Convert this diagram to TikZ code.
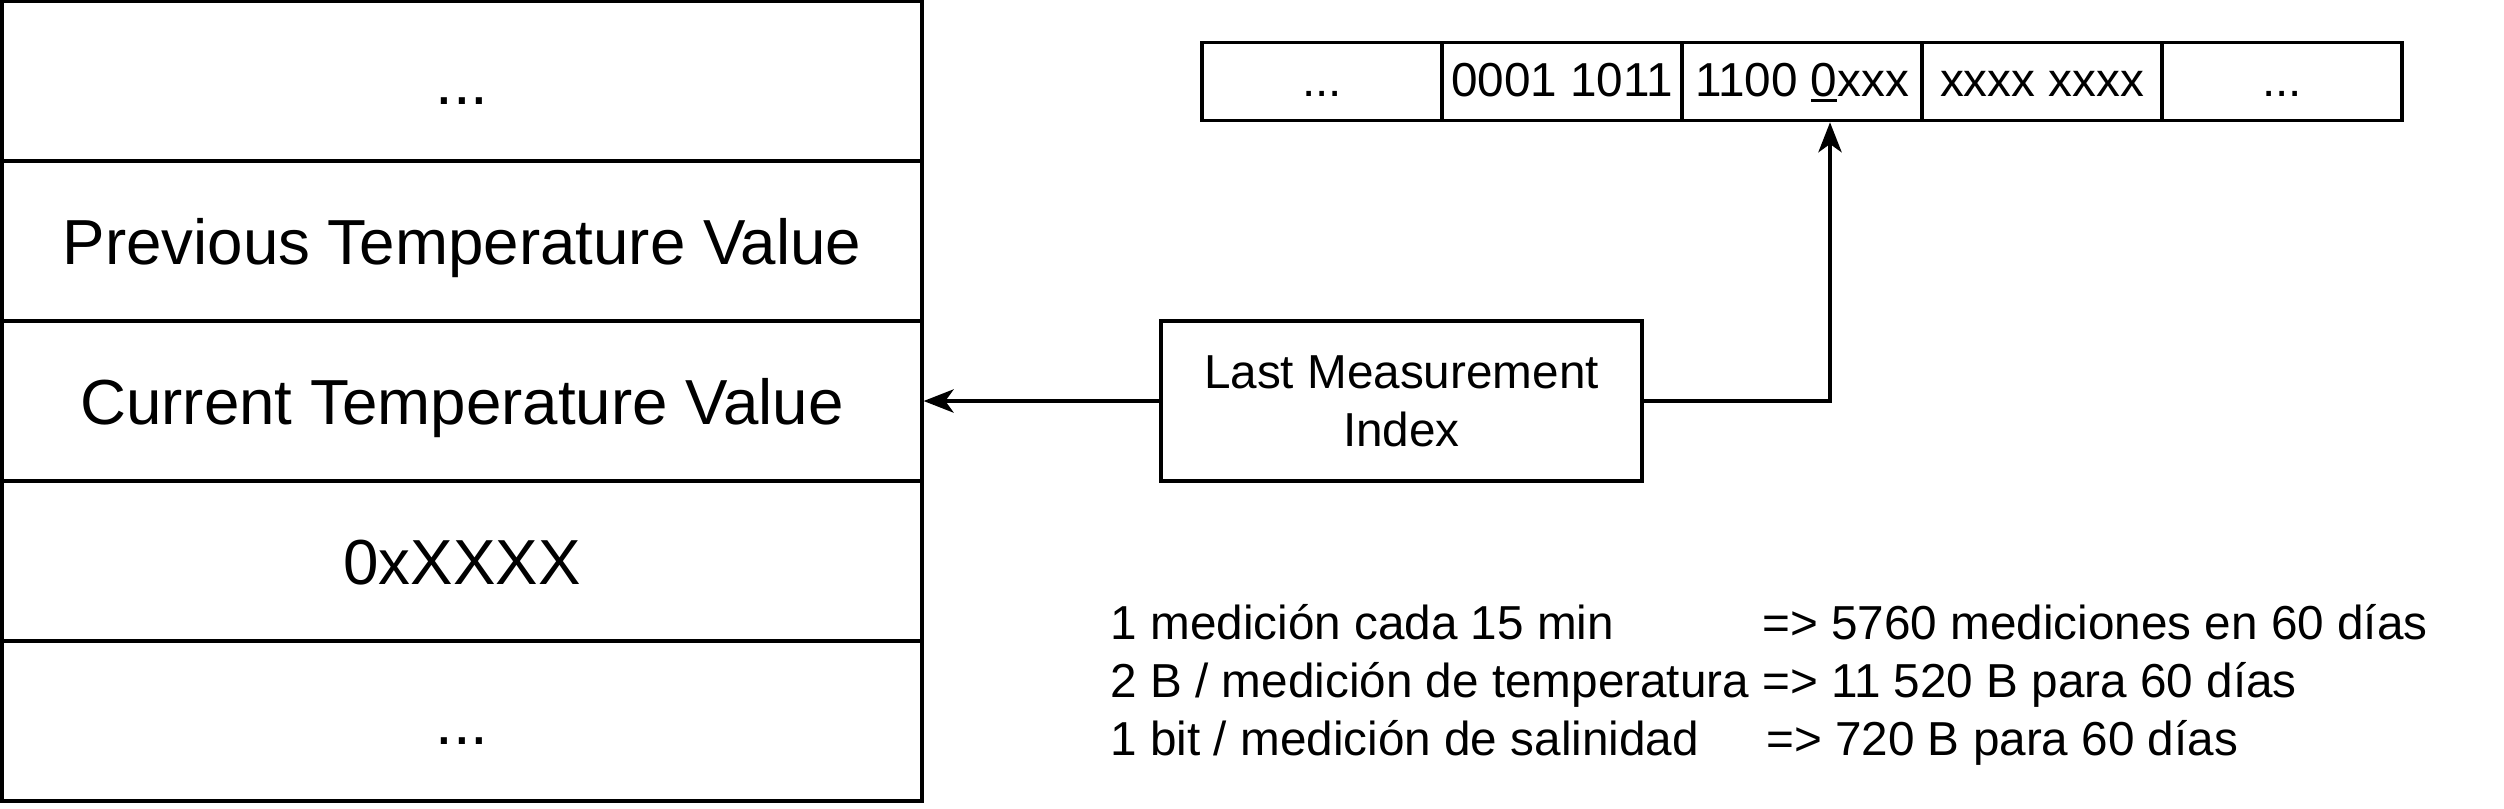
\documentclass[tikz,border=0pt]{standalone}
\usepackage{fontspec}
\setmainfont{Liberation Sans}
\usetikzlibrary{arrows.meta}
\newcommand\thickul[1]{\setbox0\hbox{#1}\rlap{\rule[-1.7pt]{\wd0}{0.9pt}}#1}
\begin{document}
\begin{tikzpicture}[x=0.3pt,y=-0.3pt,
  rowbox/.style={draw, line width=1pt, minimum width=276pt, minimum height=48pt, inner sep=0pt, text height=17.6pt, text depth=3.8pt, font=\fontsize{19.1}{22}\selectfont},
  cellbox/.style={draw, line width=1pt, minimum width=72pt, minimum height=23.5pt, inner sep=0pt, text height=12.4pt, text depth=3.7pt, font=\fontsize{14.3}{17}\selectfont},
  idxbox/.style={draw, line width=1pt, minimum width=144.3pt, minimum height=48pt, inner sep=0pt, align=center, font=\fontsize{14.3}{17.4}\selectfont},
  arr/.style={line width=1pt, -{Stealth[length=9pt, width=7pt, inset=2.5pt]}}]
\useasboundingbox (0,0) rectangle (2504,808);
% left memory column
\node[rowbox] (r1) at (462,81) {...};
\node[rowbox] (r2) at (462,241) {Previous Temperature Value};
\node[rowbox] (r3) at (462,401) {Current Temperature Value};
\node[rowbox] (r4) at (462,561) {0xXXXX};
\node[rowbox] (r5) at (462,721) {...};
% byte array
\node[cellbox] (c1) at (1322,81.5) {...};
\node[cellbox] (c2) at (1562,81.5) {0001 1011};
\node[cellbox] (c3) at (1802,81.5) {1100 \thickul{0}xxx};
\node[cellbox] (c4) at (2042,81.5) {xxxx xxxx};
\node[cellbox] (c5) at (2282,81.5) {...};
% index box
\node[idxbox] (idx) at (1401.5,401) {Last Measurement\\Index};
% connectors
\draw[arr] (idx.west) -- (r3.east);
\coordinate (bend) at (1830,401);
\draw[arr] (idx.east) -- (bend) -- (bend |- c3.south);
% notes
\node[anchor=west, inner sep=0pt, font=\fontsize{14.3}{17.4}\selectfont] (notes) at (1110,686) {%
\renewcommand{\arraystretch}{1}%
\begin{tabular}{@{}l@{ }l@{}}
1 medición cada 15 min & => 5760 mediciones en 60 días\\
2 B / medición de temperatura & => 11 520 B para 60 días\\
1 bit / medición de salinidad & \hspace{1.2pt}=> 720 B para 60 días
\end{tabular}};
\end{tikzpicture}
\end{document}
